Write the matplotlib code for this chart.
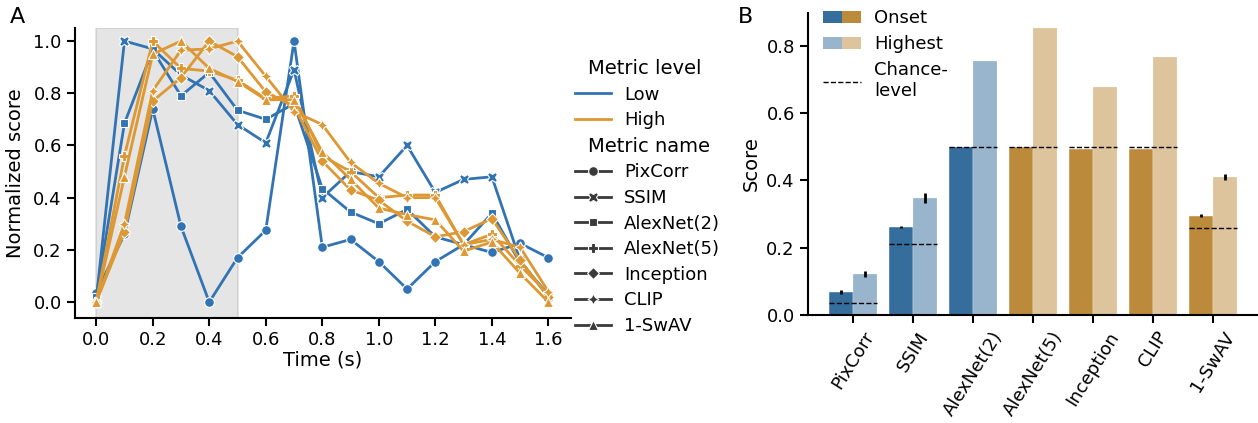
import numpy as np
import matplotlib
matplotlib.use("Agg")
import matplotlib.pyplot as plt
from matplotlib.lines import Line2D
from matplotlib.patches import Patch
from matplotlib.legend_handler import HandlerTuple
import matplotlib.offsetbox as moffsetbox

# ---- data, panel A ----
time = [0.0, 0.1, 0.2, 0.3, 0.4, 0.5, 0.6, 0.7, 0.8, 0.9, 1.0, 1.1, 1.2, 1.3, 1.4, 1.5, 1.6]

pixcorr = [0.035, 0.26, 0.74, 0.29, 0.0, 0.17, 0.275, 1.0, 0.21, 0.24, 0.155, 0.05, 0.155, 0.22, 0.19, 0.225, 0.17]
ssim = [0.01, 1.0, 0.97, 0.87, 0.81, 0.68, 0.61, 0.89, 0.40, 0.50, 0.48, 0.60, 0.42, 0.47, 0.48, 0.16, 0.02]
alexnet2 = [0.02, 0.685, 0.965, 0.79, 0.88, 0.735, 0.70, 0.76, 0.435, 0.345, 0.30, 0.355, 0.25, 0.22, 0.34, 0.15, 0.03]
alexnet5 = [0.0, 0.56, 1.0, 0.895, 0.885, 0.85, 0.78, 0.79, 0.56, 0.50, 0.40, 0.41, 0.41, 0.22, 0.26, 0.14, 0.03]
inception = [0.0, 0.27, 0.77, 0.86, 1.0, 0.94, 0.805, 0.75, 0.54, 0.43, 0.39, 0.31, 0.25, 0.27, 0.32, 0.16, 0.02]
clip = [0.0, 0.30, 0.81, 0.965, 0.97, 1.0, 0.865, 0.73, 0.68, 0.535, 0.455, 0.40, 0.40, 0.22, 0.24, 0.21, 0.04]
swav = [0.0, 0.48, 0.95, 1.0, 0.895, 0.845, 0.775, 0.775, 0.575, 0.47, 0.36, 0.335, 0.315, 0.195, 0.23, 0.11, 0.0]

metric_names = ["PixCorr", "SSIM", "AlexNet(2)", "AlexNet(5)", "Inception", "CLIP", "1-SwAV"]
metric_levels = ["Low", "Low", "Low", "High", "High", "High", "High"]
series = [pixcorr, ssim, alexnet2, alexnet5, inception, clip, swav]

# ---- data, panel B ----
onset = [0.068, 0.262, 0.50, 0.50, 0.493, 0.493, 0.295]
onset_err = [0.007, 0.003, 0.0, 0.0, 0.0, 0.0, 0.004]
highest = [0.122, 0.348, 0.756, 0.853, 0.677, 0.766, 0.41]
highest_err = [0.008, 0.015, 0.0, 0.0, 0.0, 0.0, 0.008]
chance = [0.035, 0.212, 0.50, 0.50, 0.50, 0.50, 0.26]

# styles
level_colors = {"Low": "#3274b3", "High": "#dd9833"}
bar_colors = {"Low": "#356d9d", "High": "#bc8a3b"}
markers = ["o", "X", "s", "P", "D", (4, 1, 0), "^"]
msizes = [7, 7.5, 6, 7.5, 6, 8, 7.5]

W, H = 1258, 423
fig = plt.figure(figsize=(W / 100, H / 100), dpi=100)

def px_axes(l, t, r, b):
    return fig.add_axes([l / W, 1 - b / H, (r - l) / W, (b - t) / H])

tick_fs = 13
label_fs = 14
leg_fs = 13

###############
### Panel A ###
###############
ax = px_axes(75, 28, 571, 318)
ax.axvspan(0, 0.5, color="grey", alpha=0.2, lw=1.5, zorder=0)
for vals, lev, mk, ms in zip(series, metric_levels, markers, msizes):
    ax.plot(time, vals, color=level_colors[lev], marker=mk, markersize=ms,
            markeredgecolor="white", markeredgewidth=0.8, lw=2)
ax.set_xlim(-0.075, 1.68)
ax.set_ylim(-0.061, 1.05)
ax.set_xticks(np.arange(0, 1.61, 0.2))
ax.set_yticks(np.arange(0, 1.01, 0.2))
ax.set_xticklabels([f"{v:.1f}" for v in np.arange(0, 1.61, 0.2)])
ax.set_yticklabels([f"{v:.1f}" for v in np.arange(0, 1.01, 0.2)])
ax.set_xlabel("Time (s)", fontsize=label_fs, labelpad=1)
ax.set_ylabel("Normalized score", fontsize=label_fs, labelpad=6)
ax.tick_params(labelsize=tick_fs, width=1.5, length=6)
for s in ["top", "right"]:
    ax.spines[s].set_visible(False)
for s in ["left", "bottom"]:
    ax.spines[s].set_linewidth(1.5)

# legend with seaborn-like subtitles
blank = Line2D([], [], color="none")
handles = [blank,
           Line2D([], [], color=level_colors["Low"], lw=2),
           Line2D([], [], color=level_colors["High"], lw=2),
           blank]
labels = ["Metric level", "Low", "High", "Metric name"]
for mk, ms, name in zip(markers, msizes, metric_names):
    handles.append(Line2D([], [], color="#3a3a3a", lw=2, marker=mk, markersize=ms,
                          markeredgecolor="white", markeredgewidth=0.8))
    labels.append(name)
leg = fig.legend(handles, labels, loc="center left", bbox_to_anchor=(568 / W, 1 - 197 / H),
                 frameon=False, fontsize=leg_fs, handlelength=2.0, handletextpad=0.7,
                 labelspacing=0.42, borderaxespad=0)
hpackers = leg.findobj(moffsetbox.VPacker)[0].get_children()
for hp in hpackers:
    draw_area, text_area = hp.get_children()
    arts = draw_area.get_children()
    if arts and all(isinstance(a, Line2D) and a.get_color() == "none" for a in arts):
        draw_area.set_width(0)
        for t in text_area.get_children():
            t.set_size(14)

###############
### Panel B ###
###############
bx = px_axes(808, 13, 1258, 315)
x = np.arange(len(metric_names))
for i in range(len(metric_names)):
    c = bar_colors[metric_levels[i]]
    bx.bar(x[i] - 0.2, onset[i], width=0.4, color=c, edgecolor="white", lw=0.3)
    bx.bar(x[i] + 0.2, highest[i], width=0.4, color=c, alpha=0.5, edgecolor="white", lw=0.3)
    if onset_err[i] > 0:
        bx.errorbar(x[i] - 0.2, onset[i], yerr=onset_err[i], color="black", lw=2, capsize=0)
    if highest_err[i] > 0:
        bx.errorbar(x[i] + 0.2, highest[i], yerr=highest_err[i], color="black", lw=2, capsize=0)
bx.hlines(chance, x - 0.4, x + 0.4, colors="black", linestyles="--", lw=1)
bx.set_xlim(-0.75, 6.75)
bx.set_ylim(0, 0.898)
bx.set_xticks(x)
bx.set_xticklabels(metric_names, rotation=58, fontsize=tick_fs)
bx.set_yticks(np.arange(0, 0.81, 0.2))
bx.set_yticklabels([f"{v:.1f}" for v in np.arange(0, 0.81, 0.2)])
bx.set_ylabel("Score", fontsize=label_fs)
bx.tick_params(labelsize=tick_fs, width=1.5, length=6)
for s in ["top", "right"]:
    bx.spines[s].set_visible(False)
for s in ["left", "bottom"]:
    bx.spines[s].set_linewidth(1.5)

h_onset = (Patch(facecolor=bar_colors["Low"]), Patch(facecolor=bar_colors["High"]))
h_high = (Patch(facecolor=bar_colors["Low"], alpha=0.5), Patch(facecolor=bar_colors["High"], alpha=0.5))
h_chance = Line2D([], [], color="black", ls="--", lw=1)
fig.legend([h_onset, h_high, h_chance], ["Onset", "Highest", "Chance-\nlevel"],
           handler_map={tuple: HandlerTuple(ndivide=None, pad=0)},
           loc="upper left", bbox_to_anchor=(816 / W, 1 - 2 / H), frameon=False,
           fontsize=leg_fs, handlelength=2.1, handletextpad=0.7, labelspacing=0.45,
           borderaxespad=0)

fig.text(10 / W, 1 - 7 / H, "A", fontsize=16, va="top")
fig.text(738 / W, 1 - 7 / H, "B", fontsize=16, va="top")

fig.savefig("out.png", dpi=100)
